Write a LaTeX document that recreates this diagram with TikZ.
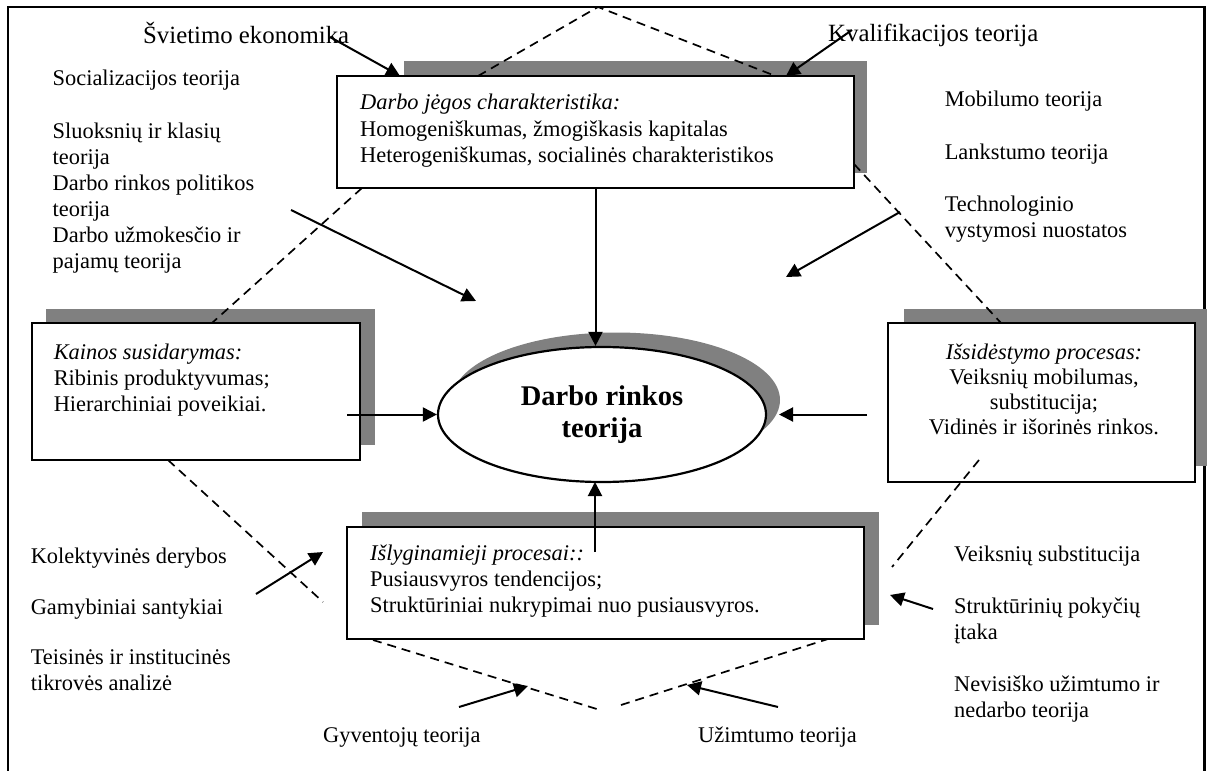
\documentclass[tikz,border=0pt]{standalone}
\usepackage{fontspec}
\setmainfont{Liberation Serif}
\usetikzlibrary{arrows.meta,shapes.geometric}
\definecolor{shadowgray}{HTML}{808080}
\begin{document}
\begin{tikzpicture}[x=1bp,y=-1bp,
  txt/.style={inner sep=0pt, align=left, anchor=base west, font=\fontsize{22.4bp}{26bp}\selectfont},
  bigtxt/.style={txt, font=\fontsize{24.8bp}{28bp}\selectfont},
  ctxt/.style={txt, align=center, anchor=base, font=\fontsize{22.4bp}{25bp}\selectfont},
  panel/.style={draw=black, line width=2.2bp, fill=white, rectangle, inner sep=0pt},
  guide/.style={dash pattern=on 9bp off 6bp, line width=1.7bp},
  flow/.style={line width=2bp, -{Triangle[length=14bp,width=14bp]}},
]
\useasboundingbox (0,0) rectangle (1207,771);

% outer frame (open at the bottom)
\draw[line width=2.2bp] (7.7,780) -- (7.7,7) -- (1204.5,7) -- (1204.5,780);

% drop shadows
\fill[shadowgray] (404,61) rectangle (867,173);
\fill[shadowgray] (46,309) rectangle (375,445);
\fill[shadowgray] (904,309) rectangle (1210,466);
\fill[shadowgray] (362,512) rectangle (879,625);
\fill[shadowgray] (616,400) ellipse [x radius=164bp, y radius=67.5bp];

% dashed guide lines
\coordinate (apexT) at (598,7);
\coordinate (dA1) at (478,76);   \coordinate (dA2) at (773,75);
\coordinate (dB1) at (362,188);  \coordinate (dB2) at (212,323);
\coordinate (dC1) at (854,164);  \coordinate (dC2) at (1001,323);
\coordinate (dD1) at (168,460);  \coordinate (dD2) at (323,602);
\coordinate (dF1) at (373,640);  \coordinate (dF2) at (600,710);
\coordinate (dG1) at (621,705);  \coordinate (dG2) at (828,639);
\draw[guide] (dA1) -- (apexT) -- (dA2);
\draw[guide] (dB1) -- (dB2);
\draw[guide] (dC1) -- (dC2);
\draw[guide] (dD1) -- (dD2);
\draw[guide] (dF1) -- (dF2);
\draw[guide] (dG1) -- (dG2);

% boxes
\node[panel, minimum width=517bp, minimum height=112bp] (topbox) at (595.5,132) {};
\node[panel, minimum width=328.3bp, minimum height=137bp] (kbox) at (195.85,391.5) {};
\node[panel, minimum width=307bp, minimum height=159bp] (rbox) at (1041.5,402.5) {};
\node[panel, minimum width=517bp, minimum height=112bp] (bbox) at (605.5,583) {};
\node[draw=black, line width=2.2bp, fill=white, ellipse, inner sep=0pt,
      minimum width=328bp, minimum height=135bp, align=center,
      font=\bfseries\fontsize{28.5bp}{32bp}\selectfont] (ell) at (602,414.5) {Darbo rinkos\\teorija};

\coordinate (dE1) at (979,460);  \coordinate (dE2) at (892,567);
\draw[guide] (dE1) -- (dE2);

% texts (each anchored at the baseline of its last line)
\node[bigtxt] (sviet) at (143,44) {Švietimo ekonomika};
\node[bigtxt] (kval) at (828,42) {Kvalifikacijos teorija};
\node[txt] (leftup) at (52.5,268) {Socializacijos teorija\\[26bp]Sluoksnių ir klasių\\teorija\\Darbo rinkos politikos\\teorija\\Darbo užmokesčio ir\\pajamų teorija};
\node[txt] (rightup) at (944.6,237) {Mobilumo teorija\\[26bp]Lankstumo teorija\\[26bp]Technologinio\\vystymosi nuostatos};
\node[txt] (toptext) at (360,162) {\textit{Darbo jėgos charakteristika:}\\Homogeniškumas, žmogiškasis kapitalas\\Heterogeniškumas, socialinės charakteristikos};
\node[txt] (ktext) at (53.6,411) {\textit{Kainos susidarymas:}\\Ribinis produktyvumas;\\Hierarchiniai poveikiai.};
\node[ctxt] (rtext) at (1044,434) {\textit{Išsidėstymo procesas:}\\Veiksnių mobilumas,\\substitucija;\\Vidinės ir išorinės rinkos.};
\node[txt] (btext) at (370,612) {\textit{Išlyginamieji procesai::}\\Pusiausvyros tendencijos;\\Struktūriniai nukrypimai nuo pusiausvyros.};
\node[txt] (leftdown) at (30.6,690) {Kolektyvinės derybos\\[25bp]Gamybiniai santykiai\\[24bp]Teisinės ir institucinės\\tikrovės analizė};
\node[txt] (rightdown) at (954,717) {Veiksnių substitucija\\[26bp]Struktūrinių pokyčių\\įtaka\\[26bp]Nevisiško užimtumo ir\\nedarbo teorija};
\node[txt] (gyv) at (323,742) {Gyventojų teorija};
\node[txt] (uzim) at (698,742) {Užimtumo teorija};

% arrows
\coordinate (s1) at (330,37);   \coordinate (t1) at (400,76);
\coordinate (s2) at (852,30);   \coordinate (t2) at (786,76);
\coordinate (s4) at (291,210);  \coordinate (t4) at (476,301);
\coordinate (s5) at (900,212);  \coordinate (t5) at (786,277);
\coordinate (s6) at (347,414.5);
\coordinate (s7) at (867,414.5); \coordinate (t7) at (779,414.5);
\coordinate (s8) at (595,552);  \coordinate (t8) at (595,482);
\coordinate (s9) at (256,594);  \coordinate (t9) at (323,552);
\coordinate (s10) at (459,707); \coordinate (t10) at (528,686);
\coordinate (s11) at (778,707); \coordinate (t11) at (687,685);
\coordinate (s12) at (933,609); \coordinate (t12) at (890,595);
\draw[flow] (s1) -- (t1);
\draw[flow] (s2) -- (t2);
\draw[flow] (topbox.south) -- (topbox.south |- ell.north);
\draw[flow] (s4) -- (t4);
\draw[flow] (s5) -- (t5);
\draw[flow] (s6) -- (ell.west);
\draw[flow] (s7) -- (t7);
\draw[flow] (s8) -- (t8);
\draw[flow] (s9) -- (t9);
\draw[flow] (s10) -- (t10);
\draw[flow] (s11) -- (t11);
\draw[flow] (s12) -- (t12);
\end{tikzpicture}
\end{document}
